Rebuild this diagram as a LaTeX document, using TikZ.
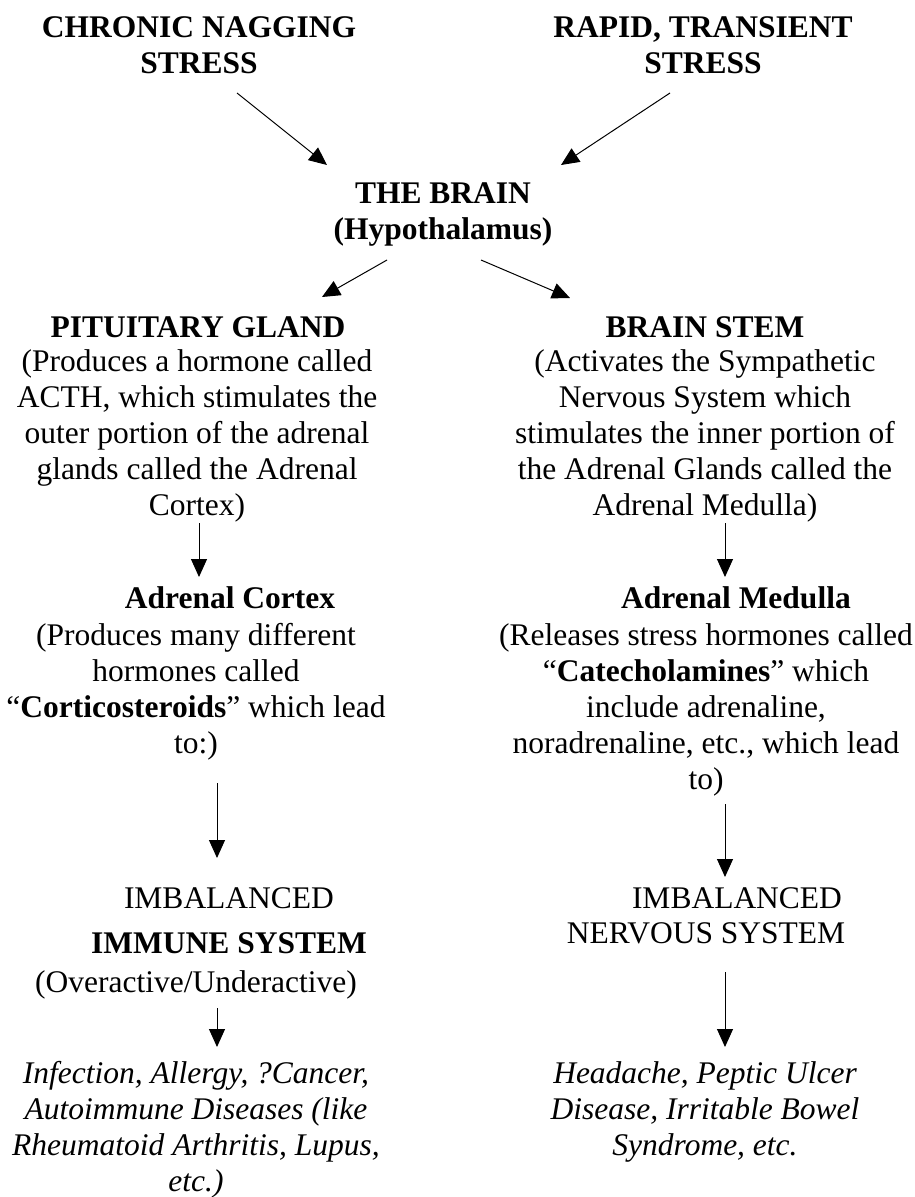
\documentclass[tikz,border=0pt]{standalone}
\usepackage{fontspec}
\setmainfont{Liberation Serif}
\usepackage{tikz}
\usetikzlibrary{arrows.meta}
\tikzset{
  txtnode/.style={inner sep=0pt, align=center, font=\fontsize{31.5}{36}\selectfont},
  headnode/.style={txtnode, font=\fontsize{31.5}{36}\selectfont\bfseries},
  illnode/.style={txtnode, font=\fontsize{31.5}{36}\selectfont\itshape},
  sarrow/.style={-{Triangle[width=16pt,length=18pt]}, line width=1pt, black},
}

\begin{document}
\begin{tikzpicture}[x=1pt, y=-1pt]
  \useasboundingbox[fill=white] (0,0) rectangle (914,1197);
  % stressors
  \node[headnode] (chronic) at (199,45.5) {CHRONIC NAGGING\\STRESS};
  \node[headnode] (rapid) at (703,45.5) {RAPID, TRANSIENT\\STRESS};
  \node[headnode] (brain) at (443,214) {THE BRAIN\\(Hypothalamus)};
  % left branch
  \node[headnode] (pitgland) at (198,327) {PITUITARY GLAND};
  \node[txtnode] (pitnote) at (197,435.5) {(Produces a hormone called\\ACTH, which stimulates the\\outer portion of the adrenal\\glands called the Adrenal\\Cortex)};
  \node[headnode] (cortex) at (230,598) {Adrenal Cortex};
  \node[txtnode] (cortexnote) at (196,692) {(Produces many different\\hormones called\\“\textbf{Corticosteroids}” which lead\\to:)};
  \node[txtnode] (immune) at (229,920.5) {IMBALANCED\\[9pt]\textbf{IMMUNE SYSTEM}};
  \node[txtnode] (immnote) at (196,985) {(Overactive/Underactive)};
  \node[illnode] (infect) at (196,1130) {Infection, Allergy, ?Cancer,\\Autoimmune Diseases (like\\Rheumatoid Arthritis, Lupus,\\etc.)};
  % right branch
  \node[headnode] (stem) at (705,327) {BRAIN STEM};
  \node[txtnode] (stemnote) at (705,435.5) {(Activates the Sympathetic\\Nervous System which\\stimulates the inner portion of\\the Adrenal Glands called the\\Adrenal Medulla)};
  \node[headnode] (medulla) at (736,598) {Adrenal Medulla};
  \node[txtnode] (medullanote) at (706,709.5) {(Releases stress hormones called\\“\textbf{Catecholamines}” which\\include adrenaline,\\noradrenaline, etc., which lead\\to)};
  \node[txtnode] (imbal) at (737,898) {IMBALANCED};
  \node[txtnode] (nervous) at (706,933) {NERVOUS SYSTEM};
  \node[illnode] (headache) at (705,1112) {Headache, Peptic Ulcer\\Disease, Irritable Bowel\\Syndrome, etc.};
  % connectors
  \foreach \a/\ax/\ay/\b/\bx/\by in {
      chronic/38/-47.5/brain/-116/49, rapid/-33/-47.5/brain/118/49,
      brain/-56/-46/pitgland/124/30, brain/38/-46/stem/-135/29,
      pitnote/2/-87.5/cortex/-31/21, stemnote/20/-87.5/medulla/-11/21,
      cortexnote/21/-91/immune/-12/62.5, medullanote/19/-94.5/imbal/-12/21,
      immnote/21/-23/infect/21/83, nervous/19/-39/headache/20/65}
    \draw[sarrow] ([xshift=\ax pt, yshift=\ay pt]\a.center) -- ([xshift=\bx pt, yshift=\by pt]\b.center);
\end{tikzpicture}
\end{document}
